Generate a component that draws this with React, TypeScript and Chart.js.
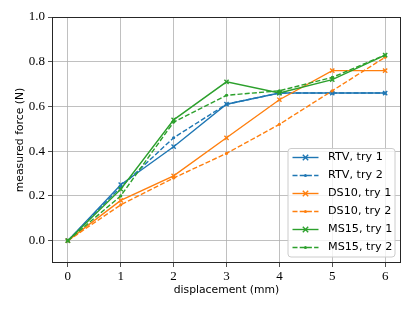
import React, { useEffect, useRef } from "react";
import { Chart, registerables } from "chart.js";

Chart.register(...registerables);

const xValues = [0, 1, 2, 3, 4, 5, 6];
const rtvTry1 = [0, 0.25, 0.42, 0.61, 0.66, 0.66, 0.66];
const rtvTry2 = [0, 0.24, 0.46, 0.61, 0.66, 0.66, 0.66];
const ds10Try1 = [0, 0.18, 0.29, 0.46, 0.63, 0.76, 0.76];
const ds10Try2 = [0, 0.16, 0.28, 0.39, 0.52, 0.67, 0.82];
const ms15Try1 = [0, 0.23, 0.54, 0.71, 0.66, 0.72, 0.83];
const ms15Try2 = [0, 0.2, 0.53, 0.65, 0.67, 0.73, 0.83];
const seriesLabels = ["RTV, try 1", "RTV, try 2", "DS10, try 1", "DS10, try 2", "MS15, try 1", "MS15, try 2"];
const xTicks = [0, 1, 2, 3, 4, 5, 6];
const yTicks = [0, 0.2, 0.4, 0.6, 0.8, 1.0];
const xTitle = "displacement (mm)";
const yTitle = "measured force (N)";

const BLUE = "#1f77b4";
const ORANGE = "#ff7f0e";
const GREEN = "#2ca02c";
const LW = 1.4;
const DASH = [5, 2.2];

const seriesValues = [rtvTry1, rtvTry2, ds10Try1, ds10Try2, ms15Try1, ms15Try2];
const seriesColors = [BLUE, BLUE, ORANGE, ORANGE, GREEN, GREEN];

const SANS = "'DejaVu Sans', sans-serif";
const SERIF = "'Liberation Serif', serif";

const overlay = {
  id: "overlay",
  afterDatasetsDraw(chart: any) {
    const { ctx } = chart;
    const { left, top, right, bottom } = chart.chartArea;
    ctx.save();
    ctx.strokeStyle = "#262626";
    ctx.lineWidth = 1;
    ctx.strokeRect(Math.round(left) + 0.5, Math.round(top) + 0.5, Math.round(right - left) - 1, Math.round(bottom - top) - 1);
    ctx.restore();
  },
  afterDraw(chart: any) {
    const { ctx } = chart;
    const { left, top, right, bottom } = chart.chartArea;
    ctx.save();
    ctx.fillStyle = "#000";
    ctx.font = `10.8px ${SANS}`;
    ctx.textAlign = "center";
    ctx.textBaseline = "middle";
    ctx.fillText(xTitle, (left + right) / 2, 290);
    ctx.translate(20, (top + bottom) / 2);
    ctx.rotate(-Math.PI / 2);
    ctx.fillText(yTitle, 0, 0);
    ctx.restore();

    // legend
    const bx = 288, by = 148.5, bw = 107, bh = 108.5, r = 3;
    ctx.save();
    ctx.beginPath();
    ctx.moveTo(bx + r, by);
    ctx.lineTo(bx + bw - r, by);
    ctx.quadraticCurveTo(bx + bw, by, bx + bw, by + r);
    ctx.lineTo(bx + bw, by + bh - r);
    ctx.quadraticCurveTo(bx + bw, by + bh, bx + bw - r, by + bh);
    ctx.lineTo(bx + r, by + bh);
    ctx.quadraticCurveTo(bx, by + bh, bx, by + bh - r);
    ctx.lineTo(bx, by + r);
    ctx.quadraticCurveTo(bx, by, bx + r, by);
    ctx.closePath();
    ctx.fillStyle = "rgba(255,255,255,0.8)";
    ctx.fill();
    ctx.strokeStyle = "#cccccc";
    ctx.lineWidth = 1;
    ctx.stroke();

    chart.data.datasets.forEach((ds: any, i: number) => {
      const y = 157.5 + i * 18;
      const dashed = i % 2 === 1;
      ctx.strokeStyle = ds.borderColor;
      ctx.lineWidth = LW;
      ctx.setLineDash(dashed ? DASH : []);
      ctx.beginPath();
      ctx.moveTo(292.5, y);
      ctx.lineTo(318.5, y);
      ctx.stroke();
      ctx.setLineDash([]);
      const mx = 305.5;
      if (dashed) {
        ctx.fillStyle = ds.borderColor;
        ctx.beginPath();
        ctx.arc(mx, y, 1.6, 0, Math.PI * 2);
        ctx.fill();
      } else {
        const s = 2.7;
        ctx.beginPath();
        ctx.moveTo(mx - s, y - s);
        ctx.lineTo(mx + s, y + s);
        ctx.moveTo(mx - s, y + s);
        ctx.lineTo(mx + s, y - s);
        ctx.stroke();
      }
      ctx.fillStyle = "#000";
      ctx.font = `11.2px ${SANS}`;
      ctx.textAlign = "left";
      ctx.textBaseline = "middle";
      ctx.fillText(ds.label, 328, y);
    });
    ctx.restore();
  },
};

export default function App() {
  const ref = useRef<HTMLCanvasElement | null>(null);
  useEffect(() => {
    if (!ref.current) return;
    const datasets = seriesValues.map((vals, i) => {
      const dashed = i % 2 === 1;
      return {
        label: seriesLabels[i],
        data: vals.map((v, j) => ({ x: xValues[j], y: v })),
        borderColor: seriesColors[i],
        backgroundColor: seriesColors[i],
        borderWidth: LW,
        borderDash: dashed ? DASH : [],
        pointStyle: dashed ? "circle" : "crossRot",
        pointRadius: dashed ? 1.6 : 3,
        pointBorderWidth: dashed ? 0 : LW,
        pointBackgroundColor: seriesColors[i],
        pointBorderColor: seriesColors[i],
        tension: 0,
        fill: false,
        order: 10 - i,
      };
    });
    const chart = new Chart(ref.current, {
      type: "line",
      data: { datasets },
      plugins: [overlay],
      options: {
        animation: false,
        responsive: false,
        devicePixelRatio: 1,
        layout: { padding: { left: 0, top: 17, right: 14, bottom: 0 } },
        plugins: { legend: { display: false }, tooltip: { enabled: false } },
        scales: {
          x: {
            type: "linear",
            min: -0.3,
            max: 6.3,
            afterFit: (s: any) => { s.height = 48; },
            afterBuildTicks: (s: any) => { s.ticks = xTicks.map((v) => ({ value: v })); },
            ticks: {
              color: "#000",
              font: { family: SERIF, size: 13 },
              padding: 2,
              maxRotation: 0,
              callback: (v: any) => String(v),
            },
            grid: { color: "#b0b0b0", lineWidth: 0.8, tickLength: 4, tickColor: "#262626" },
            border: { display: false },
          },
          y: {
            type: "linear",
            min: -0.1,
            max: 1.0,
            afterFit: (s: any) => { s.width = 52; },
            afterBuildTicks: (s: any) => { s.ticks = yTicks.map((v) => ({ value: v })); },
            ticks: {
              color: "#000",
              font: { family: SERIF, size: 13 },
              padding: 3,
              callback: (v: any) => Number(v).toFixed(1),
            },
            grid: { color: "#b0b0b0", lineWidth: 0.8, tickLength: 4, tickColor: "#262626" },
            border: { display: false },
          },
        },
      },
    });
    return () => chart.destroy();
  }, []);
  return (
    <div style={{ position: "fixed", left: 0, top: 0, width: 415, height: 311, background: "#fff" }}>
      <canvas ref={ref} width={415} height={311} />
    </div>
  );
}
